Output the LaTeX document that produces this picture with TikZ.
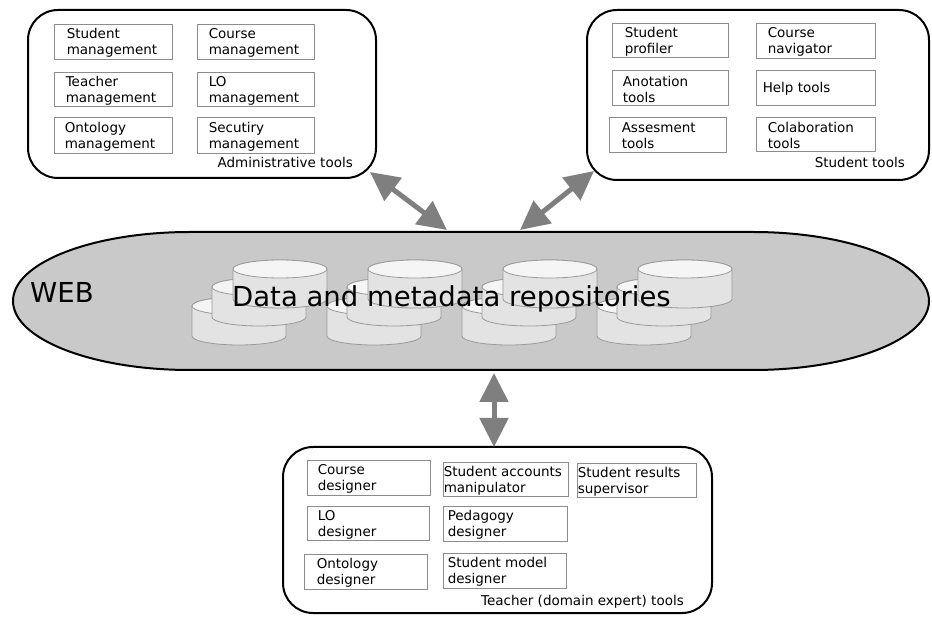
\documentclass[tikz,border=0pt]{standalone}
\usepackage{fontspec}
\setmainfont{DejaVu Sans}
\usetikzlibrary{arrows.meta,fit}
\definecolor{arr}{HTML}{7F7F7F}
\definecolor{webfill}{HTML}{C9C9C9}
\definecolor{cylbody}{HTML}{E3E3E3}
\definecolor{cyltop}{HTML}{F5F5F5}
\definecolor{cylline}{HTML}{9A9A9A}
\definecolor{iline}{HTML}{8C8C8C}
\tikzset{
  obox/.style={draw=black, line width=2pt, rounded corners=30pt, fill=white, inner sep=0pt},
  ibox/.style={draw=iline, line width=0.9pt, inner sep=0pt},
  itext/.style={anchor=west, align=left, inner sep=0pt, font=\fontsize{13.5}{16}\selectfont},
  lbl/.style={anchor=base east, inner sep=0pt, font=\fontsize{13.5}{16}\selectfont},
  bigtext/.style={anchor=base west, inner sep=0pt, font=\fontsize{27.5}{31}\selectfont},
  webshape/.style={draw=black, line width=2pt, fill=webfill},
  cylb/.style={draw=cylline, line width=0.8pt, fill=cylbody},
  cylt/.style={draw=cylline, line width=0.8pt, fill=cyltop},
  link/.style={draw=arr, line width=5pt, {Triangle[length=29pt,width=28pt]}-{Triangle[length=29pt,width=28pt]}}
}
\newcommand{\ib}[7]{%
  \node[ibox, fit={(#2,#3) (#4,#5)}] (#1) {};
  \node[itext] (#1t) at ([xshift=#6pt,yshift=-1.5pt]#1.west) {#7};}
\newcommand{\cyl}[2]{%
  \filldraw[cylb] (#1,#2) -- (#1,#2+30) arc[start angle=180,end angle=360,x radius=47pt,y radius=9pt]
     -- (#1+94,#2) arc[start angle=0,end angle=180,x radius=47pt,y radius=9pt] -- cycle;
  \filldraw[cylt] (#1+47,#2) ellipse[x radius=47pt,y radius=9pt];}
\begin{document}
\begin{tikzpicture}[x=1pt,y=-1pt]
\fill[white] (0,0) rectangle (932,617);
\useasboundingbox (0,0) rectangle (932,617);

% outer tool groups
\node[obox, fit={(28,10) (376,178)}] (admin) {};
\node[obox, fit={(587,10) (929,180)}] (stud) {};
\node[obox, fit={(283,447) (712,613)}] (teach) {};

% administrative tools
\ib{sm}{54}{24}{172}{59}{13}{Student\\management}
\ib{cm}{197}{24}{314}{59}{12}{Course\\management}
\ib{tm}{54}{72}{172}{106}{12}{Teacher\\management}
\ib{lm}{197}{72}{314}{106}{12}{LO\\management}
\ib{om}{54}{117}{172}{153}{11}{Ontology\\management}
\ib{secm}{197}{117}{314}{153}{12}{Secutiry\\management}
\node[lbl] (adminl) at (353,168) {Administrative tools};

% student tools
\ib{sp}{612}{23}{728}{57}{13}{Student\\profiler}
\ib{cn}{756}{23}{875}{58}{12}{Course\\navigator}
\ib{at}{612}{70}{728}{105}{11}{Anotation\\tools}
\ib{ht}{756}{70}{875}{105}{7}{Help tools}
\ib{ast}{609}{117}{726}{152}{13}{Assesment\\tools}
\ib{ct}{756}{117}{875}{151}{12}{Colaboration\\tools}
\node[lbl] (studl) at (905,168) {Student tools};

% teacher tools
\ib{cd}{307}{460}{430}{495}{11}{Course\\designer}
\ib{lod}{307}{506}{429}{540}{11}{LO\\designer}
\ib{od}{304}{554}{427}{589}{13}{Ontology\\designer}
\ib{sam}{443}{462}{568}{496}{1}{Student accounts\\manipulator}
\ib{pd}{443}{506}{567}{541}{5}{Pedagogy\\designer}
\ib{smd}{443}{553}{566}{588}{5}{Student model\\designer}
\ib{srs}{577}{463}{696}{497}{1}{Student results\\supervisor}
\node[lbl] (teachl) at (684,605) {Teacher (domain expert) tools};

% WEB
\draw[webshape] (190,232) -- (753,232)
   arc[start angle=90,end angle=-90,x radius=176pt,y radius=69pt]
   -- (190,370)
   arc[start angle=270,end angle=90,x radius=177pt,y radius=69pt] -- cycle;
\node[fit={(13,232) (929,370)}, inner sep=0pt] (web) {};

% repositories
\foreach \gx in {233,368,503,638} {
  \cyl{\gx-41}{306}
  \cyl{\gx-21}{287}
  \cyl{\gx}{269}
}
\node[bigtext] (webt) at (30,303) {WEB};
\node[bigtext] (repo) at (232,307) {Data and metadata repositories};

% connectors
\coordinate (a1s) at (370,172);
\coordinate (a1e) at (447,230);
\coordinate (a2s) at (520,230);
\coordinate (a2e) at (594,171);
\coordinate (a3s) at (494,373);
\coordinate (a3e) at (494,447);
\draw[link] (a1s) -- (a1e);
\draw[link] (a2s) -- (a2e);
\draw[link] (a3s) -- (a3e);
\end{tikzpicture}
\end{document}
